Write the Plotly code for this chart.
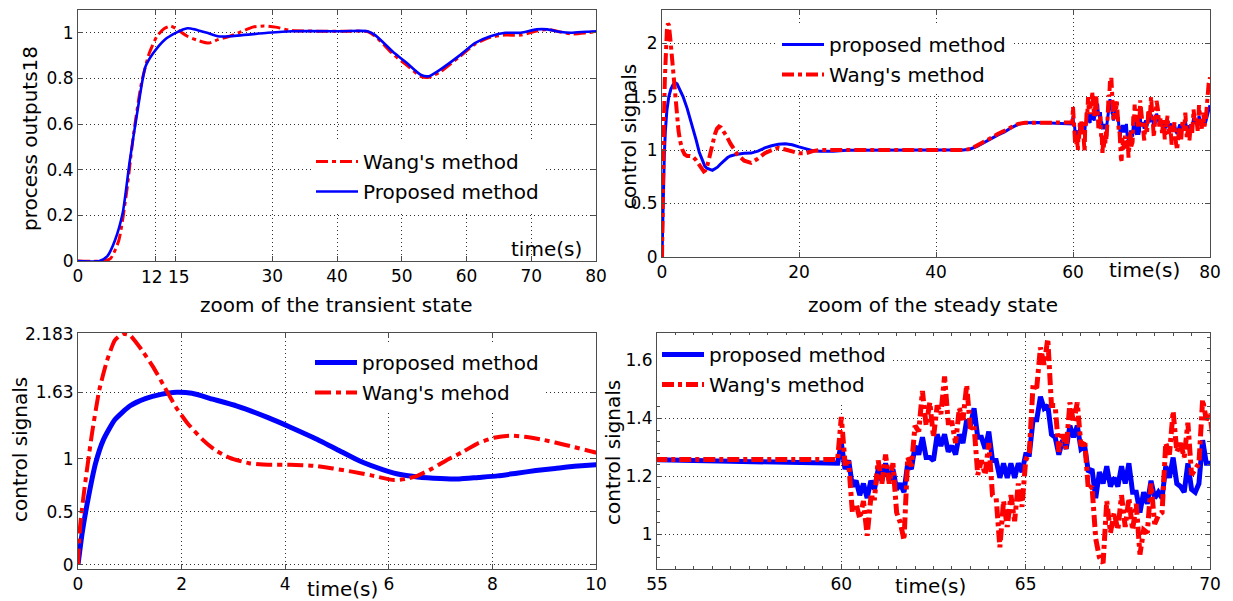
import numpy as np
import plotly.graph_objects as go

W, H = 1233, 601
FONT = "DejaVu Sans"
RED = "#ff0000"
BLUE = "#0000ff"
AXIS_COLOR = "#4d4d4d"

# ---------------- process outputs (0-80 s) ----------------
out_t_wang = [0, 3.8, 5.0, 6.3, 7.5, 8.6, 9.8, 11.0, 12.2, 13.4, 14.3, 15.3, 16.9, 18.7,
              20.2, 21.6, 23.4, 25.2, 27.0, 28.7, 30.5, 33.0, 41.0, 44.7, 45.9, 48.9,
              50.7, 53.0, 54.2, 56.0, 58.9, 61.3, 63.7, 66.0, 68.4, 70.8, 72.5, 74.3,
              76.1, 78.5, 80.0]
out_y_wang = [0, 0, 0.01, 0.09, 0.30, 0.56, 0.78, 0.91, 0.985, 1.02, 1.03, 1.015, 0.985,
              0.965, 0.955, 0.97, 0.985, 1.005, 1.025, 1.03, 1.025, 1.01, 1.007, 1.005,
              0.985, 0.90, 0.86, 0.808, 0.805, 0.83, 0.895, 0.95, 0.98, 0.99, 0.99,
              1.008, 1.015, 1.005, 0.995, 1.0, 1.005]

out_t_prop = [0, 3.3, 4.5, 5.7, 6.9, 8.0, 9.2, 10.4, 11.6, 13.4, 15.1, 16.9, 18.1, 19.9,
              21.6, 23.4, 29.3, 33.0, 41.0, 44.7, 45.9, 48.9, 50.7, 53.0, 54.2, 56.0,
              58.9, 61.3, 63.7, 66.0, 68.4, 70.8, 72.5, 74.3, 76.1, 78.5, 80.0]
out_y_prop = [0, 0, 0.02, 0.09, 0.21, 0.44, 0.66, 0.85, 0.91, 0.97, 1.0, 1.02, 1.015,
              1.0, 0.985, 0.985, 1.0, 1.007, 1.007, 1.007, 0.99, 0.91, 0.87, 0.815,
              0.81, 0.84, 0.90, 0.955, 0.985, 1.0, 1.0, 1.015, 1.015, 1.005, 1.0,
              1.005, 1.007]

# ---------------- control signals, smooth part (0-60 s) ----------------
u_t_prop = [0, 0.08, 0.19, 0.34, 0.49, 0.71, 1.0, 1.3, 1.6, 1.9, 2.2, 2.6, 3.07, 3.67,
            4.1, 4.55, 5.0, 5.44, 5.88, 6.25, 6.55, 7.0, 7.36, 7.73, 8.1, 8.47, 8.84,
            9.21, 9.58, 10.0, 11, 12, 13, 14, 15, 16, 17, 18, 19, 20, 21, 22, 23, 25,
            27, 30, 35, 40, 44, 45, 46, 47.5, 49, 50, 51, 52, 53, 55, 57, 59.9]
u_prop = [0, 0.30, 0.61, 0.96, 1.18, 1.37, 1.50, 1.57, 1.61, 1.63, 1.62, 1.565, 1.50,
          1.39, 1.30, 1.20, 1.09, 0.98, 0.90, 0.85, 0.83, 0.815, 0.81, 0.825, 0.84,
          0.865, 0.89, 0.91, 0.93, 0.945, 0.962, 0.970, 0.972, 0.99, 1.02, 1.04, 1.055,
          1.06, 1.05, 1.03, 1.01, 0.995, 0.99, 0.99, 0.998, 1.0, 1.0, 1.0, 1.0, 1.01,
          1.035, 1.09, 1.14, 1.17, 1.21, 1.24, 1.255, 1.257, 1.252, 1.245]

u_t_wang = [0, 0.04, 0.13, 0.27, 0.41, 0.56, 0.71, 0.86, 1.0, 1.23, 1.45, 1.67, 1.89,
            2.11, 2.41, 2.63, 2.93, 3.3, 3.67, 4.1, 4.55, 4.92, 5.29, 5.66, 6.1, 6.32,
            6.55, 6.84, 7.14, 7.44, 7.73, 8.03, 8.32, 8.62, 8.99, 9.43, 10.0, 11, 12,
            13, 14, 15, 16, 17, 18, 19, 20, 21, 22, 23, 30, 40, 44, 45, 46, 47.5, 49,
            50, 51, 52, 53, 55, 59.9]
u_wang = [0, 0.36, 0.74, 1.24, 1.65, 1.93, 2.12, 2.183, 2.17, 2.03, 1.87, 1.68, 1.49,
          1.34, 1.18, 1.09, 1.01, 0.96, 0.945, 0.945, 0.935, 0.91, 0.88, 0.845, 0.80,
          0.81, 0.84, 0.91, 0.995, 1.07, 1.15, 1.20, 1.22, 1.21, 1.18, 1.13, 1.06,
          0.96, 0.90, 0.88, 0.92, 0.97, 1.0, 1.02, 1.005, 0.985, 0.97, 0.97, 0.99, 1.0,
          1.0, 1.0, 1.0, 1.01, 1.04, 1.095, 1.15, 1.18, 1.215, 1.245, 1.255, 1.258,
          1.258]

# ---------------- control signals, noisy part ----------------
# 60.0 ... 70.0 s, 0.1 s sampling
noise_t1 = np.round(np.arange(600, 701) / 10.0, 1)
u_prop_n1 = [1.315, 1.225, 1.255, 1.165, 1.185, 1.135, 1.175, 1.125, 1.185, 1.155,
             1.225, 1.185, 1.245, 1.185, 1.225, 1.155, 1.175, 1.145, 1.245, 1.225,
             1.305, 1.275, 1.335, 1.265, 1.265, 1.255, 1.345, 1.305, 1.345, 1.285,
             1.305, 1.275, 1.345, 1.315, 1.395, 1.375, 1.435, 1.335, 1.335, 1.295,
             1.355, 1.255, 1.255, 1.195, 1.245, 1.195, 1.245, 1.195, 1.245, 1.215,
             1.275, 1.275, 1.395, 1.395, 1.475, 1.435, 1.445, 1.345, 1.335, 1.275,
             1.325, 1.295, 1.375, 1.335, 1.375, 1.295, 1.305, 1.215, 1.225, 1.125,
             1.215, 1.175, 1.235, 1.165, 1.195, 1.165, 1.235, 1.175, 1.245, 1.145,
             1.145, 1.075, 1.145, 1.105, 1.185, 1.125, 1.145, 1.125, 1.235, 1.195,
             1.265, 1.175, 1.165, 1.145, 1.245, 1.155, 1.145, 1.175, 1.325, 1.245,
             1.245]
u_wang_n1 = [1.405, 1.245, 1.245, 1.075, 1.105, 1.055, 1.115, 0.995, 1.125, 1.125,
             1.255, 1.175, 1.275, 1.175, 1.245, 1.075, 1.040, 0.980, 1.265, 1.235,
             1.375, 1.355, 1.495, 1.375, 1.455, 1.335, 1.445, 1.415, 1.545, 1.385,
             1.385, 1.315, 1.435, 1.395, 1.515, 1.365, 1.375, 1.205, 1.255, 1.205,
             1.315, 1.135, 1.125, 0.955, 1.115, 1.025, 1.135, 1.045, 1.175, 1.095,
             1.255, 1.285, 1.515, 1.505, 1.645, 1.585, 1.675, 1.445, 1.445, 1.285,
             1.345, 1.295, 1.455, 1.385, 1.455, 1.305, 1.325, 1.155, 1.165, 0.985,
             0.920, 0.900, 1.115, 1.005, 1.075, 1.015, 1.135, 1.025, 1.125, 1.015,
             1.105, 0.930, 1.015, 1.005, 1.175, 1.035, 1.065, 1.075, 1.315, 1.275,
             1.425, 1.285, 1.315, 1.265, 1.385, 1.205, 1.225, 1.245, 1.465, 1.395,
             1.415]
# 70.2 ... 80.0 s, 0.2 s sampling
noise_t2 = np.round(np.arange(351, 401) * 0.2, 1)
u_prop_n2 = [1.25, 1.20, 1.28, 1.22, 1.30, 1.26, 1.33, 1.29, 1.22, 1.27,
             1.34, 1.30, 1.24, 1.28, 1.22, 1.27, 1.19, 1.24, 1.28, 1.21,
             1.25, 1.17, 1.22, 1.25, 1.18, 1.15, 1.20, 1.24, 1.19, 1.26,
             1.21, 1.28, 1.19, 1.23, 1.18, 1.24, 1.21, 1.30, 1.25, 1.28,
             1.22, 1.32, 1.26, 1.22, 1.29, 1.24, 1.27, 1.33, 1.38, 1.42]
u_wang_n2 = [1.20, 1.09, 1.25, 1.15, 1.38, 1.30, 1.50, 1.35, 1.12, 1.28,
             1.46, 1.38, 1.22, 1.30, 1.16, 1.28, 1.10, 1.22, 1.32, 1.15,
             1.24, 1.05, 1.18, 1.26, 1.08, 1.00, 1.14, 1.22, 1.10, 1.28,
             1.18, 1.35, 1.12, 1.20, 1.09, 1.24, 1.16, 1.38, 1.25, 1.30,
             1.18, 1.42, 1.28, 1.20, 1.35, 1.22, 1.30, 1.48, 1.62, 1.68]

# full control-signal histories
ctl_t_prop = np.concatenate([u_t_prop, noise_t1, noise_t2])
ctl_prop = np.concatenate([u_prop, u_prop_n1, u_prop_n2])
ctl_t_wang = np.concatenate([u_t_wang, noise_t1, noise_t2])
ctl_wang = np.concatenate([u_wang, u_wang_n1, u_wang_n2])


def px_x(p):
    return p / W


def px_y(p):
    return 1 - p / H


def dom_x(a, b):
    return [px_x(a), px_x(b)]


def dom_y(top, bottom):
    return [px_y(bottom), px_y(top)]


def ax(**kw):
    base = dict(
        showline=True, linecolor=AXIS_COLOR, linewidth=1, mirror="ticks",
        ticks="inside", ticklen=5, tickwidth=1, tickcolor=AXIS_COLOR,
        showgrid=True, gridcolor="#303030", gridwidth=1, griddash="1px,3px",
        zeroline=False, tickangle=0, fixedrange=True, automargin=False,
        tickfont=dict(family=FONT, size=17, color="black"),
    )
    base.update(kw)
    return base


DASHDOT = "12px,4px,4px,4px"
DASHDOT_WIDE = "16px,5px,5px,5px"

fig = go.Figure()

# panel 1: process outputs
fig.add_trace(go.Scatter(x=out_t_wang, y=out_y_wang, name="Wang's method", mode="lines",
                         line=dict(color=RED, width=3, dash=DASHDOT, shape="spline", smoothing=0.6),
                         xaxis="x", yaxis="y", legend="legend", legendgroup="a1"))
fig.add_trace(go.Scatter(x=out_t_prop, y=out_y_prop, name="Proposed method", mode="lines",
                         line=dict(color=BLUE, width=2.6, shape="spline", smoothing=0.6),
                         xaxis="x", yaxis="y", legend="legend", legendgroup="b1"))

# panel 2: control signals 0-80 s
fig.add_trace(go.Scatter(x=ctl_t_prop, y=ctl_prop, name="proposed method", mode="lines",
                         line=dict(color=BLUE, width=3),
                         xaxis="x2", yaxis="y2", legend="legend2", legendgroup="a2"))
fig.add_trace(go.Scatter(x=ctl_t_wang, y=ctl_wang, name="Wang's method", mode="lines",
                         line=dict(color=RED, width=4, dash=DASHDOT),
                         xaxis="x2", yaxis="y2", legend="legend2", legendgroup="b2"))

# panel 3: transient state
m3p = ctl_t_prop <= 11
m3w = ctl_t_wang <= 11
fig.add_trace(go.Scatter(x=ctl_t_prop[m3p], y=ctl_prop[m3p], name="proposed method", mode="lines",
                         line=dict(color=BLUE, width=5, shape="spline", smoothing=0.5),
                         xaxis="x3", yaxis="y3", legend="legend3", legendgroup="a3"))
fig.add_trace(go.Scatter(x=ctl_t_wang[m3w], y=ctl_wang[m3w], name="Wang's mehod", mode="lines",
                         line=dict(color=RED, width=4, dash=DASHDOT_WIDE, shape="spline", smoothing=0.5),
                         xaxis="x3", yaxis="y3", legend="legend3", legendgroup="b3"))

# panel 4: steady state
m4p = ctl_t_prop >= 53
m4w = ctl_t_wang >= 53
fig.add_trace(go.Scatter(x=ctl_t_prop[m4p], y=ctl_prop[m4p], name="proposed method", mode="lines",
                         line=dict(color=BLUE, width=5),
                         xaxis="x4", yaxis="y4", legend="legend4", legendgroup="a4"))
fig.add_trace(go.Scatter(x=ctl_t_wang[m4w], y=ctl_wang[m4w], name="Wang's method", mode="lines",
                         line=dict(color=RED, width=5, dash=DASHDOT),
                         xaxis="x4", yaxis="y4", legend="legend4", legendgroup="b4"))

leg_common = dict(bgcolor="white", borderwidth=0, xanchor="left", yanchor="top",
                  font=dict(family=FONT, size=20, color="black"),
                  traceorder="grouped", tracegroupgap=1, itemwidth=42)

annotations = []


def label(text, x, y, size=20, angle=0):
    annotations.append(dict(text=text, x=px_x(x), y=px_y(y), xref="paper", yref="paper",
                            xanchor="center", yanchor="middle", showarrow=False,
                            textangle=angle, font=dict(family=FONT, size=size, color="black")))


label("process outputs18", 30, 139, angle=-90)
label("control signals", 629, 137, angle=-90)
label("control signals", 20, 450, angle=-90)
label("control signals", 613, 453, angle=-90)
label("time(s)", 546, 249)
label("time(s)", 1144, 270)
label("time(s)", 342, 589)
label("time(s)", 930, 586)
label("zoom of the transient state", 336, 305)
label("zoom of the steady state", 933, 305)

# x ticks of the process-output panel; 12 s and 15 s are so close that their
# labels are set as axis-referenced text butted against each other
p1_ticks = [0, 12, 15, 30, 40, 50, 60, 70, 80]
p1_ticktext = ["0", "", "", "30", "40", "50", "60", "70", "80"]
annotations.append(dict(text="12", x=12, xref="x", y=px_y(277), yref="paper",
                        xanchor="right", yanchor="middle", xshift=8, showarrow=False,
                        borderpad=0, font=dict(family=FONT, size=17, color="black")))
annotations.append(dict(text="15", x=15, xref="x", y=px_y(277), yref="paper",
                        xanchor="left", yanchor="middle", xshift=-8, showarrow=False,
                        borderpad=0, font=dict(family=FONT, size=17, color="black")))

fig.update_layout(
    width=W, height=H, margin=dict(l=0, r=0, t=0, b=0, autoexpand=False),
    paper_bgcolor="white", plot_bgcolor="white",
    font=dict(family=FONT, color="black"),
    annotations=annotations,
    xaxis=ax(domain=dom_x(78, 596), range=[0, 80], anchor="y",
             tickmode="array", tickvals=p1_ticks, ticktext=p1_ticktext),
    yaxis=ax(domain=dom_y(10, 261), range=[0, 1.1], anchor="x",
             tickmode="array", tickvals=[0, 0.2, 0.4, 0.6, 0.8, 1]),
    xaxis2=ax(domain=dom_x(662, 1210), range=[0, 80], anchor="y2",
              tickmode="array", tickvals=[0, 20, 40, 60, 80]),
    yaxis2=ax(domain=dom_y(10, 257), range=[0, 2.31], anchor="x2",
              tickmode="array", tickvals=[0, 0.5, 1, 1.5, 2]),
    xaxis3=ax(domain=dom_x(78, 596), range=[0, 10], anchor="y3",
              tickmode="array", tickvals=[0, 2, 4, 6, 8, 10]),
    yaxis3=ax(domain=dom_y(333, 569), range=[-0.04, 2.19], anchor="x3",
              tickmode="array", tickvals=[0, 0.5, 1, 1.63, 2.183],
              ticktext=["0", "0.5", "1", "1.63", "2.183"]),
    xaxis4=ax(domain=dom_x(657, 1210), range=[55, 70], anchor="y4",
              tickmode="array", tickvals=[55, 60, 65, 70],
              minor=dict(tickmode="linear", tick0=55, dtick=0.5, ticks="inside",
                         ticklen=3, tickcolor=AXIS_COLOR, showgrid=False)),
    yaxis4=ax(domain=dom_y(333, 569), range=[0.88, 1.695], anchor="x4",
              tickmode="array", tickvals=[1, 1.2, 1.4, 1.6],
              minor=dict(tickmode="linear", tick0=1.0, dtick=0.04, ticks="inside",
                         ticklen=3, tickcolor=AXIS_COLOR, showgrid=False)),
    legend=dict(leg_common, x=px_x(311), y=px_y(142)),
    legend2=dict(leg_common, x=px_x(777), y=px_y(25)),
    legend3=dict(leg_common, x=px_x(310), y=px_y(343)),
    legend4=dict(leg_common, x=px_x(657), y=px_y(335)),
)

fig.write_html("out.html")
